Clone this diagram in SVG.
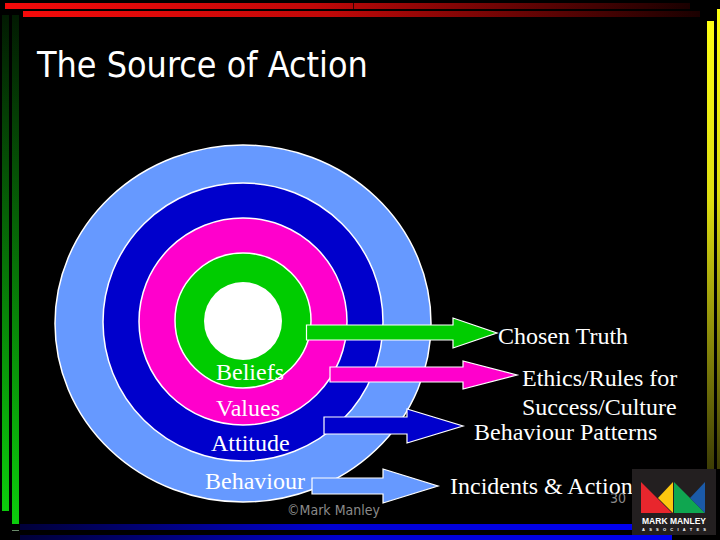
<svg xmlns="http://www.w3.org/2000/svg" width="720" height="540" viewBox="0 0 720 540">
<style>
.lbl{font-family:"Liberation Serif","Times New Roman",serif;font-size:24px;fill:#fff}
.sans{font-family:"DejaVu Sans Condensed","DejaVu Sans",sans-serif;font-stretch:condensed}
.ring{stroke:#fff;stroke-width:1.5}
.arr{stroke:#fff;stroke-width:1.2}
</style>
<defs>
<linearGradient id="r" x1="0" x2="1" y1="0" y2="0"><stop offset="0" stop-color="#f40a0a"/><stop offset="0.45" stop-color="#c00808"/><stop offset="1" stop-color="#1a0000"/></linearGradient>
<linearGradient id="g" x1="0" x2="0" y1="0" y2="1"><stop offset="0" stop-color="#021a02"/><stop offset="1" stop-color="#0ccc0c"/></linearGradient>
<linearGradient id="y" x1="0" x2="0" y1="0" y2="1"><stop offset="0" stop-color="#ffff14"/><stop offset="0.4" stop-color="#dddd10"/><stop offset="1" stop-color="#3c3c05"/></linearGradient>
<linearGradient id="b" x1="0" x2="1" y1="0" y2="0"><stop offset="0" stop-color="#000038"/><stop offset="0.5" stop-color="#0000d0"/><stop offset="1" stop-color="#0000f0"/></linearGradient>
</defs>
<rect width="720" height="540" fill="#000"/>
<g id="frame">
<rect x="5" y="3" width="685" height="6" fill="url(#r)"/>
<rect x="23" y="11" width="677" height="6" fill="url(#r)"/>
<rect x="353" y="3" width="1" height="6" fill="#300"/>
<rect x="2" y="15" width="7" height="496" fill="url(#g)"/>
<rect x="12" y="15" width="7" height="509" fill="url(#g)"/>
<rect x="707" y="21" width="7" height="449" fill="url(#y)"/>
<rect x="717" y="9" width="3" height="460" fill="url(#y)"/>
<rect x="20" y="524" width="620" height="6" fill="url(#b)"/>
<rect x="20" y="535" width="652" height="5" fill="url(#b)"/>
<rect x="12" y="530" width="7" height="1" fill="#6a8a6a"/>
</g>
<text id="title" class="sans" x="37" y="77" font-size="35.6" fill="#fff">The Source of Action</text>
<g id="rings">
<ellipse id="ring-behaviour" class="ring" cx="243" cy="323.5" rx="188" ry="178.5" fill="#6699ff"/>
<ellipse id="ring-attitude" class="ring" cx="243" cy="322" rx="140" ry="139" fill="#0000cc"/>
<ellipse id="ring-values" class="ring" cx="243" cy="321.5" rx="104" ry="103.5" fill="#ff00cc"/>
<ellipse id="ring-beliefs" class="ring" cx="243" cy="320.5" rx="68" ry="67.5" fill="#00cc00"/>
<circle id="core" cx="243" cy="321" r="39" fill="#fff"/>
</g>
<g id="connectors" class="arr">
<polygon id="arrow-green" fill="#00cc00" points="306.5,325 453,325 453,318 497,333 453,348 453,340 306.5,340"/>
<polygon id="arrow-magenta" fill="#ff00cc" points="330,367 463,367 463,361 517,375 463,389 463,382 330,382"/>
<polygon id="arrow-blue" fill="#0000cc" points="324,417 407,417 407,409 463,426 407,443 407,434 324,434"/>
<polygon id="arrow-light" fill="#6699ff" points="312,478 383,478 383,469 438,486 383,503 383,494 312,494"/>
</g>
<g id="labels" class="lbl">
<text x="216" y="380">Beliefs</text>
<text x="216" y="416">Values</text>
<text x="211" y="451">Attitude</text>
<text x="205" y="489">Behaviour</text>
<text x="498" y="344">Chosen Truth</text>
<text x="522" y="386">Ethics/Rules for</text>
<text x="522" y="415">Success/Culture</text>
<text x="474" y="440">Behaviour Patterns</text>
<text x="450" y="494">Incidents &amp; Action</text>
</g>
<text id="copyright" class="sans" x="287" y="515" font-size="14" fill="#8a8a8a">©Mark Manley</text>
<text id="page" class="sans" x="610" y="503" font-size="14" fill="#8a8a8a">30</text>
<g id="logo">
<rect x="632" y="469" width="84" height="66" fill="#231f20"/>
<polygon points="641,482 672,513 641,513" fill="#e8262d"/>
<polygon points="658,498 673,482 673,513" fill="#fdc70f"/>
<polygon points="674,482 705,513 674,513" fill="#0fa650"/>
<polygon points="705,482 705,513 690,498" fill="#1b5aa8"/>
<text x="674" y="523.5" text-anchor="middle" font-family="'Liberation Sans',sans-serif" font-weight="700" font-size="8.5" fill="#fff" textLength="64">MARK MANLEY</text>
<text x="674" y="531" text-anchor="middle" font-family="'Liberation Sans',sans-serif" font-weight="700" font-size="4" fill="#fff" textLength="64">ASSOCIATES</text>
</g>
</svg>
